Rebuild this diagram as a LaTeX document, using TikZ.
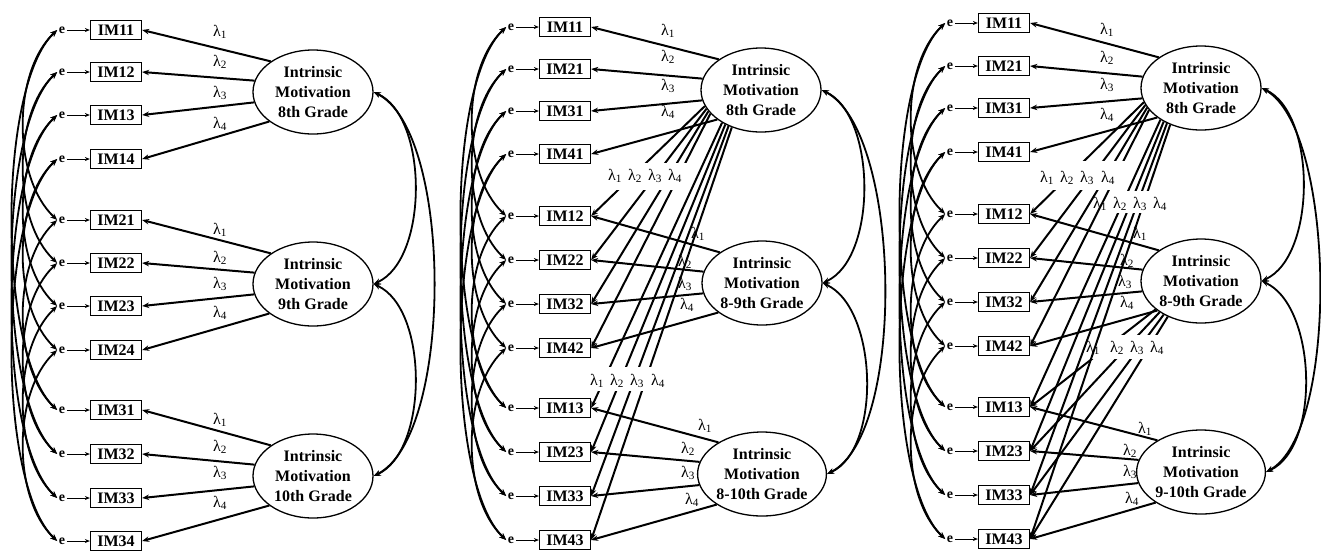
\documentclass[tikz,border=0pt]{standalone}
\usepackage{fontspec}
\setmainfont{Liberation Serif}
\usetikzlibrary{arrows.meta,shapes.geometric}
\newcommand\indvar[4]{%
  \node[errnode] (e#1) at (#2+62,#3) {e};
  \node[box] (#1) at (#2+116,#3) {#4};
  \draw[earr] (e#1) -- (#1);}
\newcommand\gapped[6]{%
  \begin{scope}\clip (#6,0) rectangle (#6+420,#4);
    \foreach \i/\ang in {#3} \draw[ldn] (#1.\ang) -- (#2\i.east);
  \end{scope}
  \begin{scope}\clip (#6,#5) rectangle (#6+420,550);
    \foreach \i/\ang in {#3} \draw[ld] (#1.\ang) -- (#2\i.east);
  \end{scope}}
\newcommand\lam[1]{λ\textsubscript{#1}}
\begin{document}
\begin{tikzpicture}[x=1pt,y=-1pt,
  box/.style={draw,line width=1.3pt,font=\bfseries\fontsize{16}{16}\selectfont,minimum width=51pt,minimum height=19pt,inner sep=0pt},
  lat/.style={draw,ellipse,line width=1.3pt,minimum width=120pt,minimum height=84pt,inner sep=0pt,align=center,font=\bfseries\fontsize{16}{20.4}\selectfont},
  errnode/.style={font=\bfseries\fontsize{14}{14}\selectfont,inner sep=1.5pt},
  ld/.style={line width=2pt,-{Stealth[length=7pt,width=5.5pt]}},
  ldn/.style={line width=2pt},
  earr/.style={line width=1pt,-{Stealth[length=5pt,width=4pt]}},
  cv/.style={line width=1.8pt,{Stealth[length=7pt,width=5.5pt]}-{Stealth[length=7pt,width=5.5pt]}},
  lab/.style={font=\fontsize{16}{16}\selectfont,inner sep=0pt}
]
\useasboundingbox (0,0) rectangle (1321,550);

% ---------------- Panel A ----------------
\indvar{a1}{0}{30}{IM11}
\indvar{a2}{0}{72}{IM12}
\indvar{a3}{0}{115}{IM13}
\indvar{a4}{0}{159}{IM14}
\indvar{a5}{0}{220}{IM21}
\indvar{a6}{0}{263}{IM22}
\indvar{a7}{0}{306}{IM23}
\indvar{a8}{0}{350}{IM24}
\indvar{a9}{0}{410}{IM31}
\indvar{a10}{0}{454}{IM32}
\indvar{a11}{0}{498}{IM33}
\indvar{a12}{0}{541}{IM34}
\node[lat] (aL1) at (313,92) {Intrinsic\\Motivation\\8th Grade};
\node[lat] (aL2) at (313,284) {Intrinsic\\Motivation\\9th Grade};
\node[lat] (aL3) at (313,476) {Intrinsic\\Motivation\\10th Grade};
\foreach \i/\ang in {1/144,2/169,3/190,4/214} \draw[ld] (aL1.\ang) -- (a\i.east);
\foreach \i/\ang in {5/144,6/169,7/190,8/214} \draw[ld] (aL2.\ang) -- (a\i.east);
\foreach \i/\ang in {9/144,10/169,11/190,12/214} \draw[ld] (aL3.\ang) -- (a\i.east);
\node[lab] (la11) at (220,32) {\lam1};
\node[lab] (la12) at (220,62) {\lam2};
\node[lab] (la13) at (220,93) {\lam3};
\node[lab] (la14) at (220,124) {\lam4};
\node[lab] (la21) at (220,230) {\lam1};
\node[lab] (la22) at (220,258) {\lam2};
\node[lab] (la23) at (220,284) {\lam3};
\node[lab] (la24) at (220,313) {\lam4};
\node[lab] (la31) at (220,420) {\lam1};
\node[lab] (la32) at (220,447) {\lam2};
\node[lab] (la33) at (220,473) {\lam3};
\node[lab] (la34) at (220,503) {\lam4};
\draw[cv] (aL1.east) .. controls +(55,25) and +(55,-25) .. (aL2.east);
\draw[cv] (aL2.east) .. controls +(55,25) and +(55,-25) .. (aL3.east);
\draw[cv] (aL1.east) .. controls +(80,40) and +(80,-40) .. (aL3.east);

% ---------------- Panel B ----------------
\indvar{b1}{449}{27}{IM11}
\indvar{b2}{449}{69}{IM21}
\indvar{b3}{449}{111}{IM31}
\indvar{b4}{449}{154}{IM41}
\indvar{b5}{449}{216}{IM12}
\indvar{b6}{449}{260}{IM22}
\indvar{b7}{449}{304}{IM32}
\indvar{b8}{449}{348}{IM42}
\indvar{b9}{449}{408}{IM13}
\indvar{b10}{449}{452}{IM23}
\indvar{b11}{449}{496}{IM33}
\indvar{b12}{449}{540}{IM43}
\node[lat] (bL1) at (761,90) {Intrinsic\\Motivation\\8th Grade};
\node[lat] (bL2) at (762,283) {Intrinsic\\Motivation\\8-9th Grade};
\node[lat] (bL3) at (762,474) {Intrinsic\\Motivation\\8-10th Grade};
\foreach \i/\ang in {1/144,2/169,3/190,4/214} \draw[ld] (bL1.\ang) -- (b\i.east);
\foreach \i/\ang in {5/144,6/169,7/190,8/214} \draw[ld] (bL2.\ang) -- (b\i.east);
\foreach \i/\ang in {9/144,10/169,11/190,12/214} \draw[ld] (bL3.\ang) -- (b\i.east);
\gapped{bL1}{b}{5/196,6/199,7/202,8/205}{162}{190}{449}
\gapped{bL1}{b}{9/220,10/224,11/228,12/232}{366}{391}{449}
\node[lab] (lb11) at (668,31) {\lam1};
\node[lab] (lb12) at (668,57) {\lam2};
\node[lab] (lb13) at (668,86) {\lam3};
\node[lab] (lb14) at (668,112) {\lam4};
\node[lab] (lb21) at (698,234) {\lam1};
\node[lab] (lb22) at (685,262) {\lam2};
\node[lab] (lb23) at (685,284) {\lam3};
\node[lab] (lb24) at (687,305) {\lam4};
\node[lab] (lb31) at (705,426) {\lam1};
\node[lab] (lb32) at (688,449) {\lam2};
\node[lab] (lb33) at (688,473) {\lam3};
\node[lab] (lb34) at (692,500) {\lam4};
\node[lab] (lbg11) at (615,176) {\lam1};
\node[lab] (lbg12) at (635,176) {\lam2};
\node[lab] (lbg13) at (655,176) {\lam3};
\node[lab] (lbg14) at (675,176) {\lam4};
\node[lab] (lbg21) at (597,381) {\lam1};
\node[lab] (lbg22) at (617,381) {\lam2};
\node[lab] (lbg23) at (637,381) {\lam3};
\node[lab] (lbg24) at (658,381) {\lam4};
\draw[cv] (bL1.east) .. controls +(55,25) and +(55,-25) .. (bL2.east);
\draw[cv] (bL2.east) .. controls +(55,25) and +(55,-25) .. (bL3.east);
\draw[cv] (bL1.east) .. controls +(80,40) and +(80,-40) .. (bL3.east);

% ---------------- Panel C ----------------
\indvar{c1}{888}{23}{IM11}
\indvar{c2}{888}{66}{IM21}
\indvar{c3}{888}{108}{IM31}
\indvar{c4}{888}{152}{IM41}
\indvar{c5}{888}{214}{IM12}
\indvar{c6}{888}{258}{IM22}
\indvar{c7}{888}{302}{IM32}
\indvar{c8}{888}{346}{IM42}
\indvar{c9}{888}{407}{IM13}
\indvar{c10}{888}{451}{IM23}
\indvar{c11}{888}{495}{IM33}
\indvar{c12}{888}{539}{IM43}
\node[lat] (cL1) at (1201,88) {Intrinsic\\Motivation\\8th Grade};
\node[lat] (cL2) at (1201,281) {Intrinsic\\Motivation\\8-9th Grade};
\node[lat] (cL3) at (1201,472) {Intrinsic\\Motivation\\9-10th Grade};
\foreach \i/\ang in {1/144,2/169,3/190,4/214} \draw[ld] (cL1.\ang) -- (c\i.east);
\foreach \i/\ang in {5/144,6/169,7/190,8/214} \draw[ld] (cL2.\ang) -- (c\i.east);
\foreach \i/\ang in {9/144,10/169,11/190,12/214} \draw[ld] (cL3.\ang) -- (c\i.east);
\gapped{cL1}{c}{5/194,6/197,7/200,8/203}{160}{190}{888}
\gapped{cL1}{c}{9/218,10/222,11/226,12/230}{190}{213}{888}
\gapped{cL2}{c}{9/212,10/217,11/222,12/227}{334}{359}{888}
\node[lab] (lc11) at (1107,30) {\lam1};
\node[lab] (lc12) at (1107,58) {\lam2};
\node[lab] (lc13) at (1107,85) {\lam3};
\node[lab] (lc14) at (1107,115) {\lam4};
\node[lab] (lc21) at (1140,234) {\lam1};
\node[lab] (lc22) at (1127,261) {\lam2};
\node[lab] (lc23) at (1125,282) {\lam3};
\node[lab] (lc24) at (1127,303) {\lam4};
\node[lab] (lc31) at (1145,429) {\lam1};
\node[lab] (lc32) at (1130,451) {\lam2};
\node[lab] (lc33) at (1130,472) {\lam3};
\node[lab] (lc34) at (1132,499) {\lam4};
\node[lab] (lcg11) at (1047,178) {\lam1};
\node[lab] (lcg12) at (1067,178) {\lam2};
\node[lab] (lcg13) at (1087,178) {\lam3};
\node[lab] (lcg14) at (1108,178) {\lam4};
\node[lab] (lcg21) at (1100,204) {\lam1};
\node[lab] (lcg22) at (1120,204) {\lam2};
\node[lab] (lcg23) at (1140,204) {\lam3};
\node[lab] (lcg24) at (1160,204) {\lam4};
\node[lab] (lcg31) at (1093,348) {\lam1};
\node[lab] (lcg32) at (1117,348) {\lam2};
\node[lab] (lcg33) at (1137,348) {\lam3};
\node[lab] (lcg34) at (1157,348) {\lam4};
\draw[cv] (cL1.east) .. controls +(55,25) and +(55,-25) .. (cL2.east);
\draw[cv] (cL2.east) .. controls +(55,25) and +(55,-25) .. (cL3.east);
\draw[cv] (cL1.east) .. controls +(74,40) and +(74,-40) .. (cL3.east);

% ---------------- residual correlations ----------------
\foreach \p in {a,b,c}{
  \foreach \j in {1,2,3,4}{
    \pgfmathtruncatemacro\k{\j+4}
    \pgfmathtruncatemacro\m{\j+8}
    \draw[cv] (e\p\j.west) .. controls +(-45,42) and +(-45,-42) .. (e\p\k.west);
    \draw[cv] (e\p\k.west) .. controls +(-45,42) and +(-45,-42) .. (e\p\m.west);
    \draw[cv] (e\p\j.west) .. controls +(-60,56) and +(-60,-56) .. (e\p\m.west);
  }
}
\end{tikzpicture}
\end{document}
